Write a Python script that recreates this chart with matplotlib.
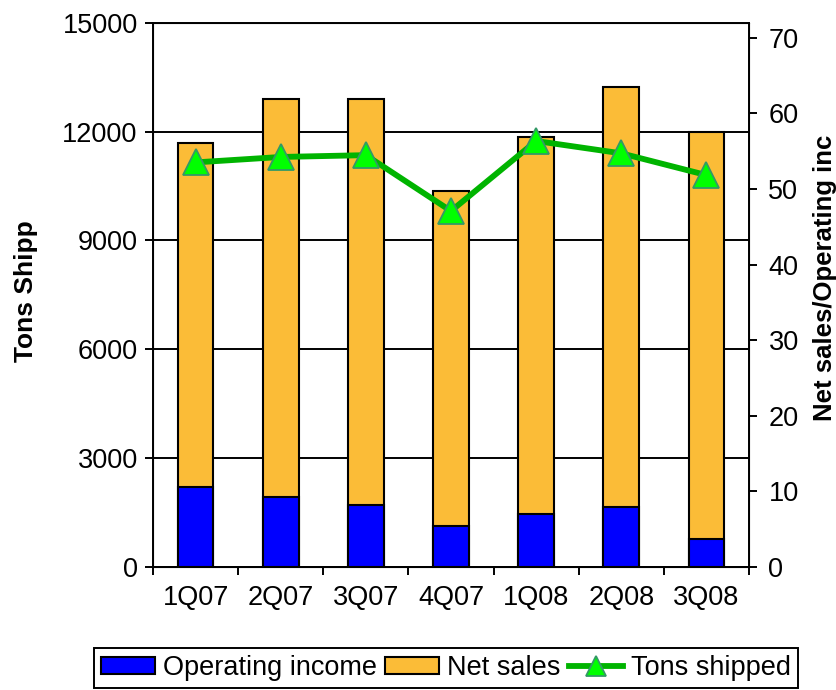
import matplotlib
matplotlib.use('Agg')
import matplotlib.pyplot as plt
import numpy as np

quarters = ['1Q07', '2Q07', '3Q07', '4Q07', '1Q08', '2Q08', '3Q08']
net_sales = [56.1, 61.9, 61.9, 49.8, 56.9, 63.5, 57.6]
operating_income = [10.6, 9.3, 8.2, 5.4, 7.0, 7.9, 3.7]
tons_shipped = [11150, 11300, 11350, 9810, 11740, 11400, 10800]

plt.rcParams['font.family'] = ['Liberation Sans', 'DejaVu Sans']

fig = plt.figure(figsize=(8.36, 6.90), dpi=100)
ax = fig.add_axes([153/836, 1 - 567/690, (749 - 153)/836, (567 - 22.7)/690])

x = np.arange(len(quarters))

# left scale: tons shipped, with the grid
ax.set_ylim(0, 15000)
ax.set_yticks(np.arange(0, 15001, 3000))
ax.set_xlim(-0.5, len(quarters) - 0.5)
ax.yaxis.grid(True, color='black', linewidth=1.4)
ax.set_axisbelow(True)
ax.tick_params(axis='y', labelsize=19.5, length=6, width=1.4, pad=5, direction='out')
ax.set_xticks(np.arange(-0.5, len(quarters), 1.0))
ax.set_xticklabels([])
ax.set_xticks(x, minor=True)
ax.set_xticklabels(quarters, minor=True)
ax.tick_params(axis='x', which='major', length=6, width=1.4, direction='out')
ax.tick_params(axis='x', which='minor', length=0, labelsize=19.5, pad=13)
for s in ax.spines.values():
    s.set_linewidth(1.4)

# right scale: net sales / operating income bars
ax2 = ax.twinx()
ax2.set_ylim(0, 72)
ax2.set_yticks(np.arange(0, 71, 10))
ax2.tick_params(axis='y', labelsize=19.5, length=6, width=1.4, pad=8, direction='out')
b1 = ax2.bar(x, net_sales, width=0.42, color='#FBBC37', edgecolor='black', linewidth=1.5, label='Net sales')
b2 = ax2.bar(x, operating_income, width=0.42, color='#0000FF', edgecolor='black', linewidth=1.5, label='Operating income')

# tons shipped line on top
ax3 = ax.twinx()
ax3.set_ylim(0, 15000)
ax3.set_yticks([])
for s in ax3.spines.values():
    s.set_visible(False)
ln, = ax3.plot(x, tons_shipped, color='#00B400', linewidth=4.2, marker='^', markersize=19,
               markerfacecolor='#00FF00', markeredgecolor='#339966', markeredgewidth=1.3,
               label='Tons shipped')

fig.text(26/836, 1 - 291/690, 'Tons Shipp', rotation=90, fontsize=19, fontweight='bold',
         ha='center', va='center')
fig.text(813/836, 1 - 278/690, 'Net sales/Operating inc', rotation=90, fontsize=18.5, fontweight='bold',
         ha='left', va='center')

leg = fig.legend([b2, b1, ln], ['Operating income', 'Net sales', 'Tons shipped'],
                 loc='lower center', bbox_to_anchor=(446/836, 2/690), ncol=3, fontsize=19.5,
                 frameon=True, fancybox=False, edgecolor='black', framealpha=1,
                 handlelength=2.0, handleheight=0.6, handletextpad=0.3, columnspacing=0.3,
                 borderpad=0.25, borderaxespad=0, markerscale=0.75)
leg.get_frame().set_linewidth(1.4)

fig.savefig('out.png', dpi=100)
